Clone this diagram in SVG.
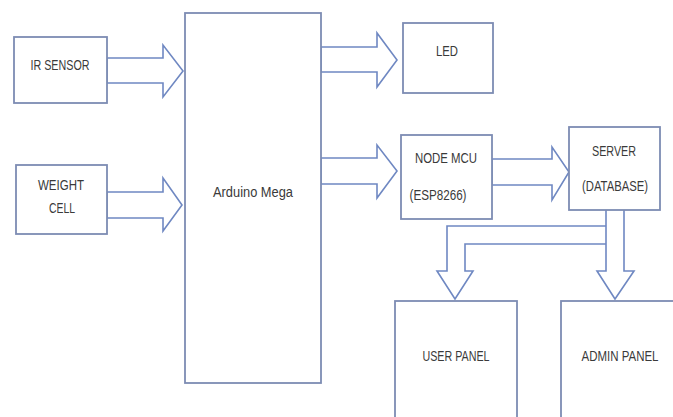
<svg xmlns="http://www.w3.org/2000/svg" width="673" height="417" viewBox="0 0 673 417">
<style>
.box{fill:#fff;stroke:#7d8cb3;stroke-width:1.8}
.arr{fill:#fff;stroke:#6f88c2;stroke-width:1.6;stroke-linejoin:miter}
.t{font-family:"Liberation Sans",Arial,sans-serif;font-size:14px;fill:#3a3a3a;text-anchor:middle}
</style>
<rect width="673" height="417" fill="#fff"/>
<g id="connectors">
<polygon class="arr" points="107,58 163,58 163,45 183,71 163,97 163,83 107,83"/>
<polygon class="arr" points="107,192 163,192 163,178 182,205 163,231 163,218 107,218"/>
<polygon class="arr" points="321,47 377,47 377,33 397,60 377,87 377,72 321,72"/>
<polygon class="arr" points="321,158 377,158 377,145 397,171 377,198 377,184 321,184"/>
<polygon class="arr" points="492,159 552,159 552,147 569,172 552,200 552,185 492,185"/>
<path class="arr" d="M606,226 L447,226 L447,271 L437,271 L455,299 L473,271 L465,271 L465,244 L606,244"/>
<path class="arr" d="M606,210 L606,271 L597,271 L615,299 L634,271 L624,271 L624,210"/>
</g>
<g id="ir-sensor"><rect class="box" x="14" y="37" width="93" height="66"/><text class="t" x="60" y="70" textLength="59" lengthAdjust="spacingAndGlyphs">IR SENSOR</text></g>
<g id="weight-cell"><rect class="box" x="16" y="165" width="91" height="69"/><text class="t" x="61" y="190" textLength="46" lengthAdjust="spacingAndGlyphs">WEIGHT</text><text class="t" x="62" y="213" textLength="26" lengthAdjust="spacingAndGlyphs">CELL</text></g>
<g id="arduino"><rect class="box" x="185" y="13" width="136" height="370"/><text class="t" x="253" y="197" textLength="80" lengthAdjust="spacingAndGlyphs">Arduino Mega</text></g>
<g id="led"><rect class="box" x="403" y="23" width="90" height="70"/><text class="t" x="447" y="56" textLength="22" lengthAdjust="spacingAndGlyphs">LED</text></g>
<g id="nodemcu"><rect class="box" x="401" y="135" width="91" height="84"/><text class="t" x="446" y="163" textLength="62" lengthAdjust="spacingAndGlyphs">NODE MCU</text><text class="t" x="438" y="200" textLength="57" lengthAdjust="spacingAndGlyphs">(ESP8266)</text></g>
<g id="server"><rect class="box" x="569" y="127" width="91" height="83"/><text class="t" x="614" y="156" textLength="44" lengthAdjust="spacingAndGlyphs">SERVER</text><text class="t" x="615" y="191" textLength="66" lengthAdjust="spacingAndGlyphs">(DATABASE)</text></g>
<g id="user-panel"><rect class="box" x="395" y="301" width="122" height="130"/><text class="t" x="456" y="361" textLength="67" lengthAdjust="spacingAndGlyphs">USER PANEL</text></g>
<g id="admin-panel"><rect class="box" x="561" y="301" width="130" height="130"/><text class="t" x="620" y="361" textLength="77" lengthAdjust="spacingAndGlyphs">ADMIN PANEL</text></g>
</svg>
